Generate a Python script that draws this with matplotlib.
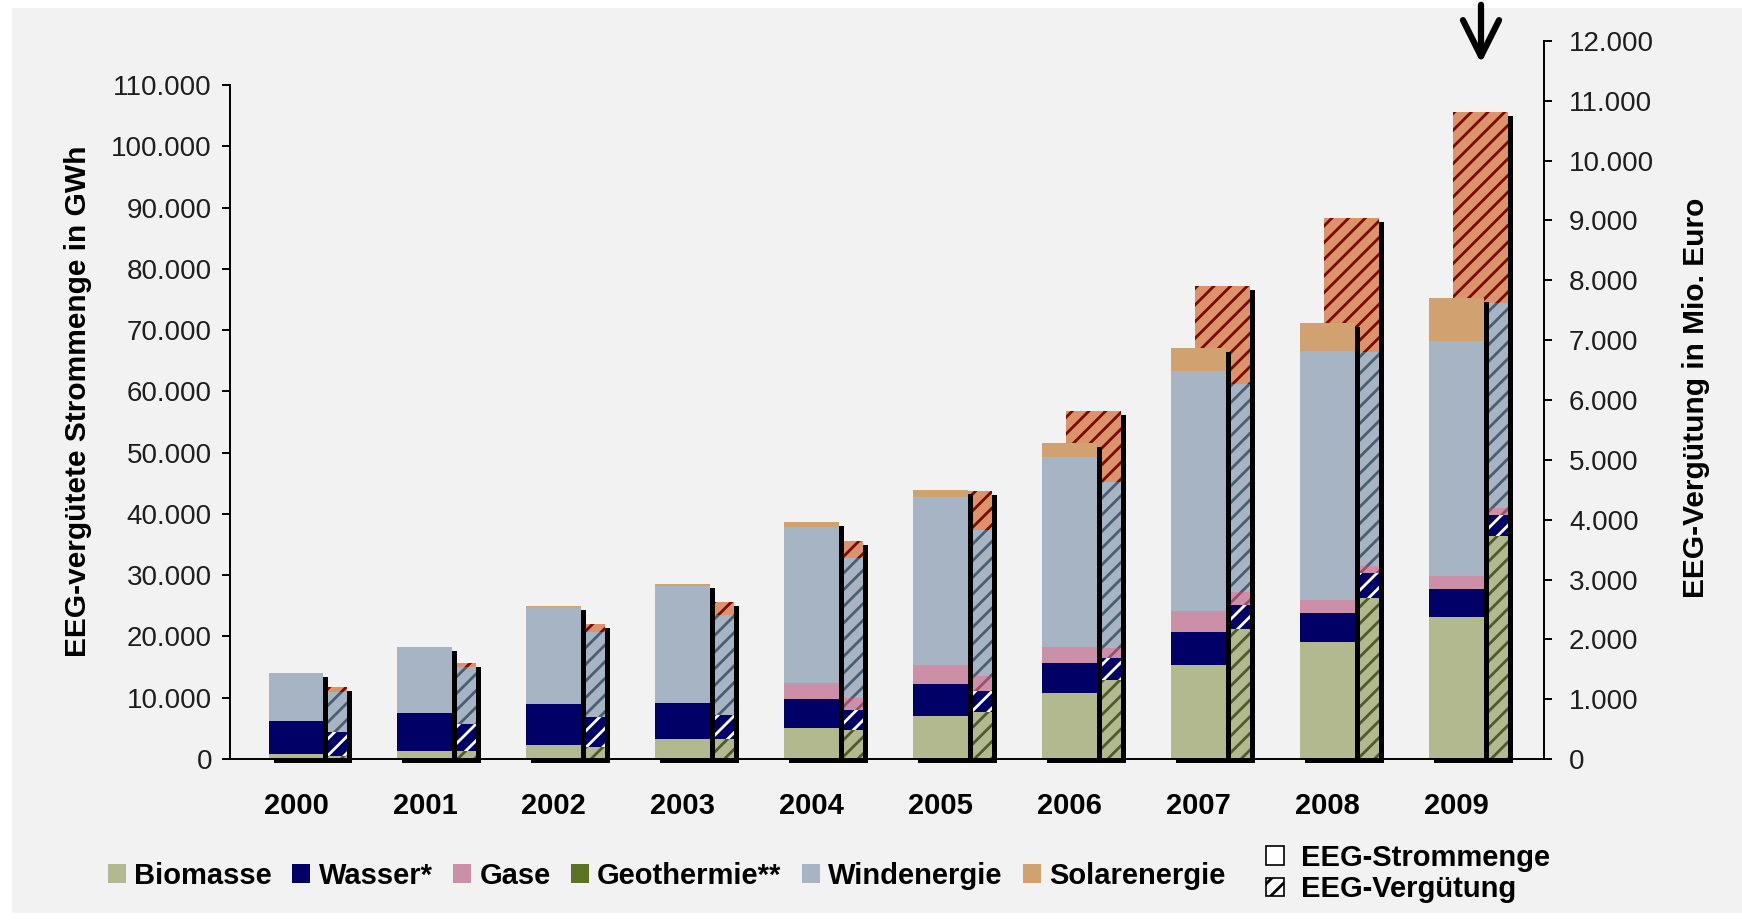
import numpy as np
import matplotlib
matplotlib.use('Agg')
import matplotlib.pyplot as plt
from matplotlib.patches import Patch, Rectangle
from matplotlib.ticker import FuncFormatter, MultipleLocator
from matplotlib import transforms

plt.rcParams['font.family'] = ['Liberation Sans', 'DejaVu Sans']
plt.rcParams['hatch.linewidth'] = 2.0

years = ['2000', '2001', '2002', '2003', '2004', '2005', '2006', '2007', '2008', '2009']
sources = ['Biomasse', 'Wasser*', 'Gase', 'Geothermie**', 'Windenergie', 'Solarenergie']

# EEG-vergütete Strommenge in GWh
strom_bio = [770, 1300, 2280, 3210, 5010, 7070, 10720, 15340, 19130, 23140]
strom_wasser = [5430, 6160, 6650, 5980, 4780, 5170, 4890, 5440, 4750, 4610]
strom_gase = [0, 0, 0, 0, 2560, 3100, 2720, 3380, 2070, 2150]
strom_geo = [0, 0, 0, 0, 0, 0, 0, 0, 15, 20]
strom_wind = [7850, 10800, 15930, 19050, 25570, 27370, 31010, 39170, 40610, 38370]
strom_solar = [30, 70, 160, 320, 810, 1190, 2190, 3700, 4660, 6890]

# EEG-Vergütung in Mio. Euro
verg_bio = [50, 134, 206, 329, 485, 790, 1320, 2167, 2694, 3721]
verg_wasser = [407, 446, 501, 406, 334, 351, 373, 406, 411, 353]
verg_gase = [0, 0, 0, 0, 195, 246, 167, 212, 125, 125]
verg_geo = [0, 0, 0, 0, 0, 0, 0, 0, 3, 4]
verg_wind = [668, 952, 1410, 1671, 2340, 2440, 2774, 3481, 3563, 3416]
verg_solar = [80, 68, 134, 223, 294, 656, 1186, 1643, 2239, 3195]

strom = [strom_bio, strom_wasser, strom_gase, strom_geo, strom_wind, strom_solar]
verg = [verg_bio, verg_wasser, verg_gase, verg_geo, verg_wind, verg_solar]

colors = ['#b3b98e', '#000066', '#cc8fa8', '#5a7325', '#a6b4c4', '#d2a170']
verg_colors = ['#b3b98e', '#000066', '#cc8fa8', '#5a7325', '#a6b4c4', '#dc936a']
hatch_colors = ['#4d5a2a', '#ffffff', '#9a4f6e', '#26330c', '#4a5e72', '#7a0a00']

fig = plt.figure(figsize=(17.42, 9.22), dpi=100, facecolor='white')
fig.add_artist(Rectangle((12 / 1742, 9 / 922), 1 - 12 / 1742, 1 - 17 / 922,
                         transform=fig.transFigure, facecolor='#f2f2f2',
                         edgecolor='none', zorder=-10))

ax = fig.add_axes([230 / 1742, 1 - 759 / 922, 1314 / 1742, 718 / 922])
ax2 = ax.twinx()
ax.set_zorder(ax2.get_zorder() + 1)
ax.patch.set_visible(False)
ax2.patch.set_visible(False)

x = np.arange(len(years))
w = 0.426
off = 0.186
shadow = transforms.offset_copy(ax.transData, fig, x=5, y=-4, units='dots')
shadow2 = transforms.offset_copy(ax2.transData, fig, x=5, y=-4, units='dots')

# Vergütung (right axis), partly hidden behind the Strommenge bars
vtot = np.sum(verg, axis=0)
ax2.bar(x + off, vtot, w, color='black', transform=shadow2, clip_on=False, zorder=1)
bottom = np.zeros(len(years))
for vals, fc, hc in zip(verg, verg_colors, hatch_colors):
    ax2.bar(x + off, vals, w, bottom=bottom, facecolor=fc, edgecolor=hc,
            linewidth=0, hatch='//', zorder=2)
    bottom += np.array(vals)

# Strommenge (left axis)
stot = np.sum(strom, axis=0)
ax.bar(x, stot, w, color='black', transform=shadow, clip_on=False, zorder=1)
bottom = np.zeros(len(years))
for vals, fc in zip(strom, colors):
    ax.bar(x, vals, w, bottom=bottom, color=fc, linewidth=0, zorder=2)
    bottom += np.array(vals)

fmt = FuncFormatter(lambda v, p: f'{v:,.0f}'.replace(',', '.'))

ax.set_xlim(-0.512, 9.682)
ax.set_ylim(0, 117200)
ax2.set_ylim(0, 12000)
ax2.yaxis.set_major_locator(MultipleLocator(1000))
ax.yaxis.set_major_formatter(fmt)
ax2.yaxis.set_major_formatter(fmt)
ax.set_yticks(np.arange(0, 110001, 10000))

for s in ['top', 'right']:
    ax.spines[s].set_visible(False)
for s in ['top', 'left', 'bottom']:
    ax2.spines[s].set_visible(False)
ax.spines['left'].set_bounds(0, 110000)
ax.spines['left'].set_linewidth(1.4)
ax.spines['bottom'].set_linewidth(1.4)
ax2.spines['right'].set_linewidth(1.4)

ax.set_xticks(x)
ax.set_xticklabels(years, fontsize=21, fontweight='bold')
ax.tick_params(axis='x', length=0, pad=24)
ax.tick_params(axis='y', direction='out', length=6, width=1.4, pad=7,
               labelsize=20, labelcolor='#1e1e1e')
ax2.tick_params(axis='y', direction='out', length=6, width=1.4, pad=12,
                labelsize=20, labelcolor='#1e1e1e')

fig.text(78 / 1742, 0.565, 'EEG-vergütete Strommenge in GWh', rotation=90,
         ha='center', va='center', fontsize=21.5, fontweight='bold')
fig.text(1696 / 1742, 0.568, 'EEG-Vergütung in Mio. Euro', rotation=90,
         ha='center', va='center', fontsize=21.5, fontweight='bold')

handles = [Patch(facecolor=c, edgecolor='none') for c in colors]
fig.legend(handles, sources, ncol=6, loc='center left',
           bbox_to_anchor=(108 / 1742, 0.050), frameon=False,
           prop={'size': 21, 'weight': 'bold'}, handlelength=0.6, handleheight=0.6,
           handletextpad=0.3, columnspacing=0.7, borderpad=0, borderaxespad=0)

kind = [Patch(facecolor='white', edgecolor='black', linewidth=1.2),
        Patch(facecolor='white', edgecolor='black', linewidth=1.2, hatch='//')]
fig.legend(kind, ['EEG-Strommenge', 'EEG-Vergütung'], ncol=1, loc='center left',
           bbox_to_anchor=(1266 / 1742, 0.0525), frameon=False,
           prop={'size': 21, 'weight': 'bold'}, handlelength=0.6, handleheight=0.6,
           handletextpad=0.6, labelspacing=0.12, borderpad=0, borderaxespad=0)

ax.annotate('', xy=(1481 / 1742, 1 - 66 / 922), xytext=(1481 / 1742, 1 - 2 / 922),
            xycoords='figure fraction', textcoords='figure fraction',
            arrowprops=dict(arrowstyle='->, head_length=1.3, head_width=0.65',
                            mutation_scale=20, lw=4.5, color='black'))

fig.savefig('out.png', dpi=100, facecolor=fig.get_facecolor())
